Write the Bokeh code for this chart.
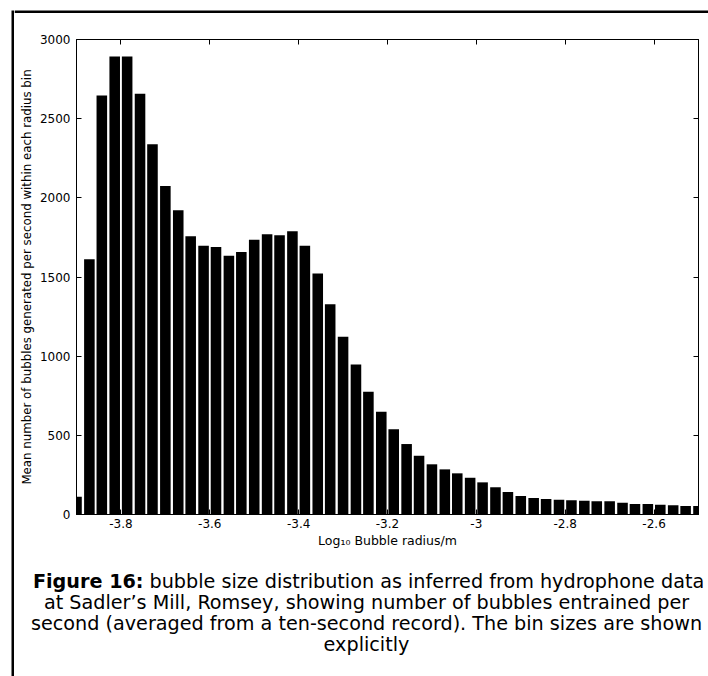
from bokeh.plotting import figure
from bokeh.layouts import row, column
from bokeh.models import Range1d, LinearAxis, FixedTicker
from bokeh.core.properties import value
from bokeh.embed import file_html
from bokeh.resources import INLINE

# Bin centres in log10(radius / m) and mean bubble counts per second in each bin
log_radius = [
    -3.900, -3.871, -3.843, -3.814, -3.786, -3.757, -3.729, -3.700, -3.671, -3.643,
    -3.614, -3.586, -3.557, -3.529, -3.500, -3.471, -3.443, -3.414, -3.386, -3.357,
    -3.329, -3.300, -3.271, -3.243, -3.214, -3.186, -3.157, -3.129, -3.100, -3.071,
    -3.043, -3.014, -2.986, -2.957, -2.929, -2.900, -2.871, -2.843, -2.814, -2.786,
    -2.757, -2.729, -2.700, -2.671, -2.643, -2.614, -2.586, -2.557, -2.529, -2.500,
]
bubble_counts = [
    112, 1612, 2647, 2893, 2893, 2657, 2339, 2074, 1921, 1757,
    1698, 1690, 1635, 1658, 1736, 1770, 1763, 1789, 1698, 1522,
    1328, 1122, 948, 775, 649, 539, 445, 371, 317, 285,
    260, 232, 203, 172, 142, 117, 104, 98, 93, 90,
    87, 83, 83, 74, 66, 66, 62, 58, 54, 54,
]

x_ticks = [-3.8, -3.6, -3.4, -3.2, -3.0, -2.8, -2.6]
x_tick_labels = ["-3.8", "-3.6", "-3.4", "-3.2", "-3", "-2.8", "-2.6"]
y_ticks = [0, 500, 1000, 1500, 2000, 2500, 3000]
y_tick_labels = ["0", "500", "1000", "1500", "2000", "2500", "3000"]

x_title = "Log\u2081\u2080 Bubble radius/m"
y_title = "Mean number of bubbles generated per second within each radius bin"
caption_bold = "Figure 16:"
caption_lines = [
    "bubble size distribution as inferred from hydrophone data",
    "at Sadler\u2019s Mill, Romsey, showing number of bubbles entrained per",
    "second (averaged from a ten-second record). The bin sizes are shown",
    "explicitly",
]

FONT = "DejaVu Sans"
CAPTION_SIZE = "19.2px"
PAGE_W, PAGE_H = 708, 676
RULE_W = 14          # strip holding the heavy left rule
TOP_H = 13           # strip holding the heavy top rule
CHART_H = 547        # chart panel (axes, ticks, titles)
CAPTION_H = PAGE_H - TOP_H - CHART_H
INNER_W = PAGE_W - RULE_W


def blank_panel(w, h):
    """A figure whose frame fills the whole canvas, in pixel coordinates (y down)."""
    f = figure(width=w, height=h, output_backend="svg", toolbar_location=None,
               x_range=Range1d(0, w), y_range=Range1d(h, 0),
               x_axis_location=None, y_axis_location=None,
               min_border=0, min_border_left=0, min_border_right=0,
               min_border_top=0, min_border_bottom=0, frame_align=False)
    f.xgrid.visible = False
    f.ygrid.visible = False
    f.outline_line_color = None
    f.background_fill_color = "white"
    f.border_fill_color = "white"
    return f


# Heavy page rules
left_rule = blank_panel(RULE_W, PAGE_H)
left_rule.quad(left=11, right=14, top=10, bottom=PAGE_H, fill_color="black", line_color=None)

top_rule = blank_panel(INNER_W, TOP_H)
top_rule.quad(left=0, right=INNER_W, top=10, bottom=13, fill_color="black", line_color=None)

# Histogram panel
p = figure(
    width=INNER_W, height=CHART_H,
    output_backend="svg", toolbar_location=None,
    x_range=Range1d(-3.9, -2.5), y_range=Range1d(0, 3000),
    min_border_left=62, min_border_right=10,
    min_border_top=26, min_border_bottom=CHART_H - 26 - 475,
    frame_align=False,
)
p.background_fill_color = "white"
p.border_fill_color = "white"
p.outline_line_color = "black"
p.outline_line_width = 1
p.xgrid.visible = False
p.ygrid.visible = False

bin_step = log_radius[1] - log_radius[0]
p.vbar(x=log_radius, top=bubble_counts, width=0.82 * bin_step,
       fill_color="black", line_color=None)

# Boxed axes with inward ticks on all four sides
bottom_axis = p.below[0]
left_axis = p.left[0]
top_axis = LinearAxis()
right_axis = LinearAxis()
p.add_layout(top_axis, "above")
p.add_layout(right_axis, "right")

for ax in [bottom_axis, top_axis]:
    ax.ticker = FixedTicker(ticks=x_ticks)
for ax in [left_axis, right_axis]:
    ax.ticker = FixedTicker(ticks=y_ticks)

for ax in [bottom_axis, left_axis, top_axis, right_axis]:
    ax.axis_line_color = "black"
    ax.major_tick_line_color = "black"
    ax.major_tick_in = 5
    ax.major_tick_out = 0
    ax.minor_tick_line_color = None
    ax.major_label_text_font = FONT
    ax.major_label_text_font_size = "12px"
    ax.major_label_text_color = "black"

for ax in [top_axis, right_axis]:
    ax.major_label_text_font_size = "0px"
    ax.major_label_text_color = None
    ax.major_label_standoff = 0

bottom_axis.major_label_overrides = dict(zip(x_ticks, x_tick_labels))
bottom_axis.major_label_standoff = 4
bottom_axis.axis_label = x_title
bottom_axis.axis_label_text_font = FONT
bottom_axis.axis_label_text_font_size = "12.5px"
bottom_axis.axis_label_text_font_style = "normal"
bottom_axis.axis_label_text_color = "black"
bottom_axis.axis_label_standoff = 2

left_axis.major_label_overrides = dict(zip(y_ticks, y_tick_labels))
left_axis.major_label_standoff = 6
left_axis.axis_label = y_title
left_axis.axis_label_text_font = FONT
left_axis.axis_label_text_font_size = "11.8px"
left_axis.axis_label_text_font_style = "normal"
left_axis.axis_label_text_color = "black"
left_axis.axis_label_standoff = 3

# Caption panel: bold figure number followed by the description, centred lines
cap = blank_panel(INNER_W, CAPTION_H)
cap.text(x=[129], y=[21], text=[caption_bold], text_font=value(FONT),
         text_font_size=CAPTION_SIZE, text_font_style="bold", text_color="black",
         text_align="right", text_baseline="alphabetic")
cap.text(x=[135], y=[21], text=[caption_lines[0]], text_font=value(FONT),
         text_font_size=CAPTION_SIZE, text_color="black",
         text_align="left", text_baseline="alphabetic")
cap.text(x=[352, 352, 352], y=[42, 63, 84], text=caption_lines[1:],
         text_font=value(FONT), text_font_size=CAPTION_SIZE, text_color="black",
         text_align="center", text_baseline="alphabetic")

page = row(left_rule, column(top_rule, p, cap, spacing=0), spacing=0)

open("out.html", "w").write(file_html(page, INLINE))
